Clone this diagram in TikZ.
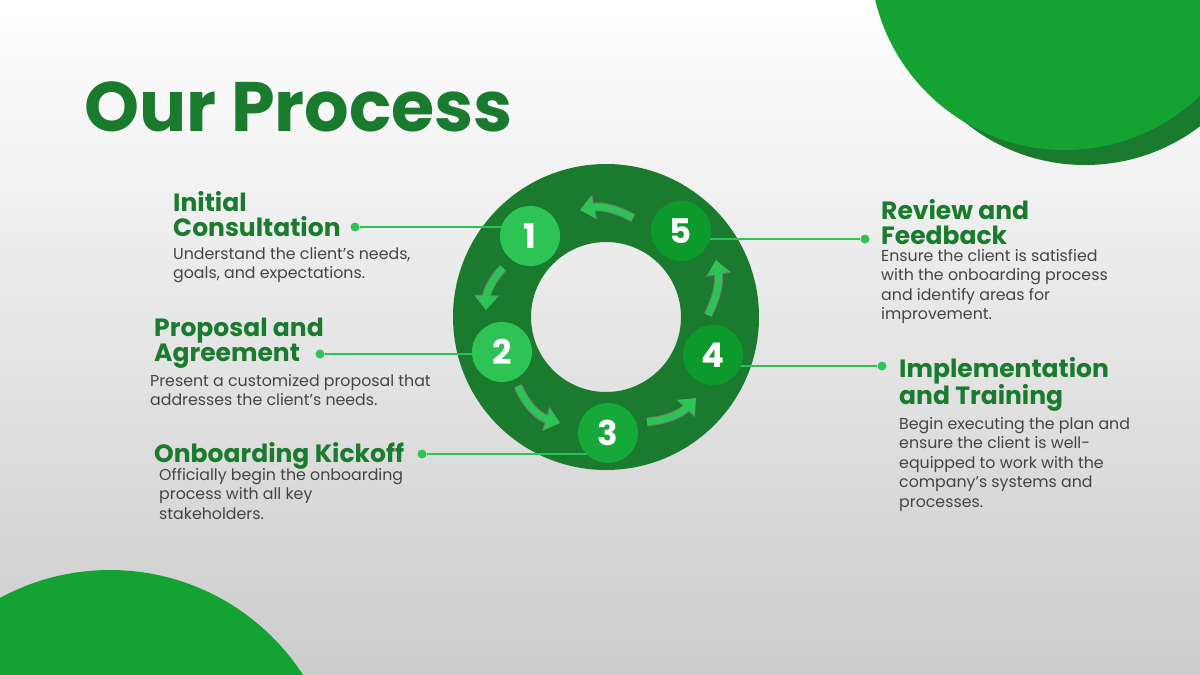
\documentclass[tikz,border=0pt]{standalone}
\usepackage{fontspec}
\setmainfont{Poppins}
\usetikzlibrary{arrows.meta}
\definecolor{dg}{HTML}{1A7A2E}
\definecolor{lg}{HTML}{2EC455}
\definecolor{mg}{HTML}{17A83A}
\definecolor{bg}{HTML}{0C9A2C}
\definecolor{txt}{HTML}{444444}
\definecolor{corner}{HTML}{14A232}
\begin{document}
\begin{tikzpicture}[x=1pt,y=-1pt,
 head/.style={anchor=north west,font=\fontsize{25}{25}\selectfont\bfseries,text=dg,align=left,inner sep=0},
 body/.style={anchor=north west,font=\fontsize{15.8}{19.5}\selectfont,text=txt,align=left,inner sep=0},
 stepc/.style={circle,minimum size=60pt,inner sep=0,text=white,font=\fontsize{34}{34}\selectfont\bfseries},
 conn/.style={lg,line width=1.2pt},
 dot/.style={circle,fill=lg,minimum size=9pt,inner sep=0},
 arr/.style={line width=7pt,lg,-{Triangle[length=14pt,width=22pt]}},
 shad/.style={line width=9pt,black!55,-{Triangle[length=15pt,width=25pt]}}]
\useasboundingbox (0,0) rectangle (1200,675);
\shade[top color=white,bottom color=black!20] (0,0) rectangle (1200,675);
\begin{scope}
\clip (0,0) rectangle (1200,675);
\fill[dg] (1085,-25) circle (190);
\fill[corner] (1065,-45) circle (195);
\fill[corner] (110,800) circle (230);
\end{scope}
\node[anchor=west,inner sep=0,text=dg,font=\fontsize{70}{70}\selectfont\bfseries] (title) at (84,107) {Our Process};
% ring
\fill[dg,even odd rule] (606,317) circle (153) (606,317) circle (75);
% arrows
\foreach \s in {shad,arr}{
\draw[\s] (633,218) to[bend right=20] (580,210);
\draw[\s] (503,268) to[bend right=20] (486,310);
\draw[\s] (518,386) to[bend right=25] (560,423);
\draw[\s] (647,422) to[bend right=20] (696,398);
\draw[\s] (708,315) to[bend right=18] (716,260);
}
% dots and connectors
\coordinate (c1) at (530,236);
\coordinate (c2) at (502,352);
\coordinate (c3) at (608,433);
\coordinate (c4) at (713,355);
\coordinate (c5) at (681,231);
\node[dot] (d1) at (355,227) {};
\node[dot] (d2) at (320,354) {};
\node[dot] (d3) at (422,454) {};
\node[dot] (d5) at (865,239) {};
\node[dot] (d4) at (882,366) {};
\draw[conn] (d1) -- (d1 -| c1);
\draw[conn] (d2) -- (d2 -| c2);
\draw[conn] (d3) -- (d3 -| c3);
\draw[conn] (d5) -- (d5 -| c5);
\draw[conn] (d4) -- (d4 -| c4);
\node[stepc,fill=lg] (s1) at (c1) {1};
\node[stepc,fill=lg] (s2) at (c2) {2};
\node[stepc,fill=mg] (s3) at (c3) {3};
\node[stepc,fill=bg] (s4) at (c4) {4};
\node[stepc,fill=bg] (s5) at (c5) {5};
% texts
\node[head] (h1) at (173,191) {Initial\\Consultation};
\node[body] (b1) at (173,247) {Understand the client’s needs,\\goals, and expectations.};
\node[head] (h2) at (154,318) {Proposal and\\Agreement};
\node[body] (b2) at (150,374) {Present a customized proposal that\\addresses the client’s needs.};
\node[head] (h3) at (154,442) {Onboarding Kickoff};
\node[body] (b3) at (159,468) {Officially begin the onboarding\\process with all key\\stakeholders.};
\node[head] (h5) at (881,199) {Review and\\Feedback};
\node[body] (b5) at (881,249) {Ensure the client is satisfied\\with the onboarding process\\and identify areas for\\improvement.};
\node[head] (h4) at (899,357) {Implementation\\and Training};
\node[body] (b4) at (899,417) {Begin executing the plan and\\ensure the client is well-\\equipped to work with the\\company’s systems and\\processes.};
\end{tikzpicture}
\end{document}
